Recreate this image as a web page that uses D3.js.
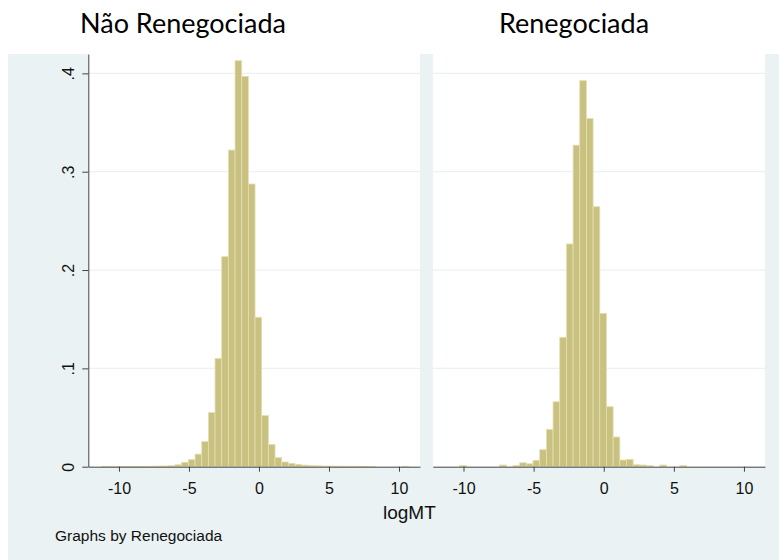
<!DOCTYPE html>
<html>
<head>
<meta charset="utf-8">
<script src="https://cdn.jsdelivr.net/npm/d3@7"></script>
<style>
  html, body { margin: 0; padding: 0; background: #ffffff; }
  svg { display: block; }
</style>
</head>
<body>
<svg id="chart" width="779" height="560"></svg>
<script>
// Histogram bins of logMT (shared across both panels)
const binStart = -11.23;
const binWidth = 0.476;

// Density per bin, 46 bins, for each group
const densNaoRenegociada = [
  0.0004, 0.0003, 0.0003, 0.0002, 0.0002, 0.0002, 0.0003, 0.0004, 0.0006, 0.0008,
  0.0011, 0.0020, 0.0045, 0.0072, 0.0128, 0.0255, 0.0550, 0.1100, 0.2136, 0.3220,
  0.4129, 0.3970, 0.2875, 0.1520, 0.0520, 0.0225, 0.0092, 0.0048, 0.0034, 0.0024,
  0.0016, 0.0012, 0.0009, 0.0007, 0.0006, 0.0005, 0.0005, 0.0004, 0.0004, 0.0003,
  0.0003, 0, 0, 0, 0, 0.0004
];
const densRenegociada = [
  0, 0, 0.0013, 0, 0, 0, 0, 0, 0.0017, 0,
  0.0013, 0.0040, 0.0030, 0.0065, 0.0173, 0.0380, 0.0660, 0.1316, 0.2265, 0.3270,
  0.3926, 0.3540, 0.2644, 0.1560, 0.0610, 0.0302, 0.0068, 0.0075, 0.0020, 0.0017,
  0.0010, 0, 0.0017, 0, 0, 0.0013, 0, 0, 0, 0,
  0, 0, 0, 0, 0, 0
];

const panelTitles = ["Não Renegociada", "Renegociada"];
const xTicks = [-10, -5, 0, 5, 10];
const yTicks = [0, 0.1, 0.2, 0.3, 0.4];
const xTitle = "logMT";
const noteText = "Graphs by Renegociada";

const svg = d3.select("#chart");
const W = 779, H = 560;

// Layout
const plotTop = 54, plotBottom = 466.7;
const panels = [
  { left: 88.3, right: 420, data: densNaoRenegociada, title: panelTitles[0], titleX: 80 },
  { left: 432.8, right: 765, data: densRenegociada, title: panelTitles[1], titleX: 499 }
];
const xDomain = [-12.19, 11.5];
const yMaxDomain = 0.4197;

const bg = "#eaf2f3";
const barFill = "#c9c17f";
const barStroke = "#e4dfb4";
const axisColor = "#444";
const tickFont = "'Liberation Sans', Arial, sans-serif";

svg.append("rect").attr("width", W).attr("height", H).attr("fill", "#fff");
svg.append("rect").attr("x", 8).attr("y", plotTop).attr("width", W - 8).attr("height", H - plotTop).attr("fill", bg);

const y = d3.scaleLinear().domain([0, yMaxDomain]).range([plotBottom, plotTop]);

panels.forEach((p, i) => {
  const x = d3.scaleLinear().domain(xDomain).range([p.left, p.right]);
  const g = svg.append("g");

  g.append("rect")
    .attr("x", p.left).attr("y", plotTop)
    .attr("width", p.right - p.left).attr("height", plotBottom - plotTop)
    .attr("fill", "#fff");

  // horizontal grid
  g.selectAll("line.grid").data(yTicks.filter(t => t > 0)).enter()
    .append("line").attr("class", "grid")
    .attr("x1", p.left).attr("x2", p.right)
    .attr("y1", d => y(d)).attr("y2", d => y(d))
    .attr("stroke", bg).attr("stroke-width", 1.2);

  // bars
  const bins = p.data.map((v, k) => ({ x0: binStart + k * binWidth, x1: binStart + (k + 1) * binWidth, v }));
  g.selectAll("rect.bar").data(bins.filter(b => b.v > 0)).enter()
    .append("rect").attr("class", "bar")
    .attr("x", d => x(d.x0))
    .attr("width", d => x(d.x1) - x(d.x0))
    .attr("y", d => y(d.v))
    .attr("height", d => y(0) - y(d.v))
    .attr("fill", barFill)
    .attr("stroke", barStroke)
    .attr("stroke-width", 0.8);

  // x axis
  const xa = g.append("g")
    .attr("transform", `translate(0,${plotBottom})`)
    .call(d3.axisBottom(x).tickValues(xTicks).tickSize(5).tickSizeOuter(0).tickPadding(11).tickFormat(d => String(d)));
  xa.select(".domain").attr("stroke", axisColor);
  xa.selectAll(".tick line").attr("stroke", axisColor);
  xa.selectAll("text").attr("font-family", tickFont).attr("font-size", 16).attr("fill", "#111");

  // y axis on first panel only
  if (i === 0) {
    const ya = g.append("g")
      .attr("transform", `translate(${p.left},0)`)
      .call(d3.axisLeft(y).tickValues(yTicks).tickSize(6).tickSizeOuter(0)
        .tickFormat(d => d === 0 ? "0" : d3.format(".1f")(d).replace(/^0/, "")));
    ya.select(".domain").attr("stroke", axisColor);
    ya.selectAll(".tick line").attr("stroke", axisColor);
    ya.selectAll(".tick text")
      .attr("font-family", tickFont).attr("font-size", 16).attr("fill", "#111")
      .attr("x", null).attr("dy", null)
      .attr("text-anchor", "middle")
      .attr("transform", "translate(-14,0) rotate(-90)")
      .attr("dy", "0");
  }

  // panel title
  svg.append("text")
    .attr("x", p.titleX).attr("y", 33)
    .attr("font-family", "Lato, 'Open Sans', sans-serif")
    .attr("font-size", 27)
    .attr("fill", "#000")
    .text(p.title);
});

// x axis title
svg.append("text")
  .attr("x", 383)
  .attr("y", 519)
  .attr("font-family", tickFont).attr("font-size", 19).attr("fill", "#111")
  .text(xTitle);

// note
svg.append("text")
  .attr("x", 55).attr("y", 541)
  .attr("font-family", tickFont).attr("font-size", 15.5).attr("fill", "#111")
  .text(noteText);
</script>
</body>
</html>
